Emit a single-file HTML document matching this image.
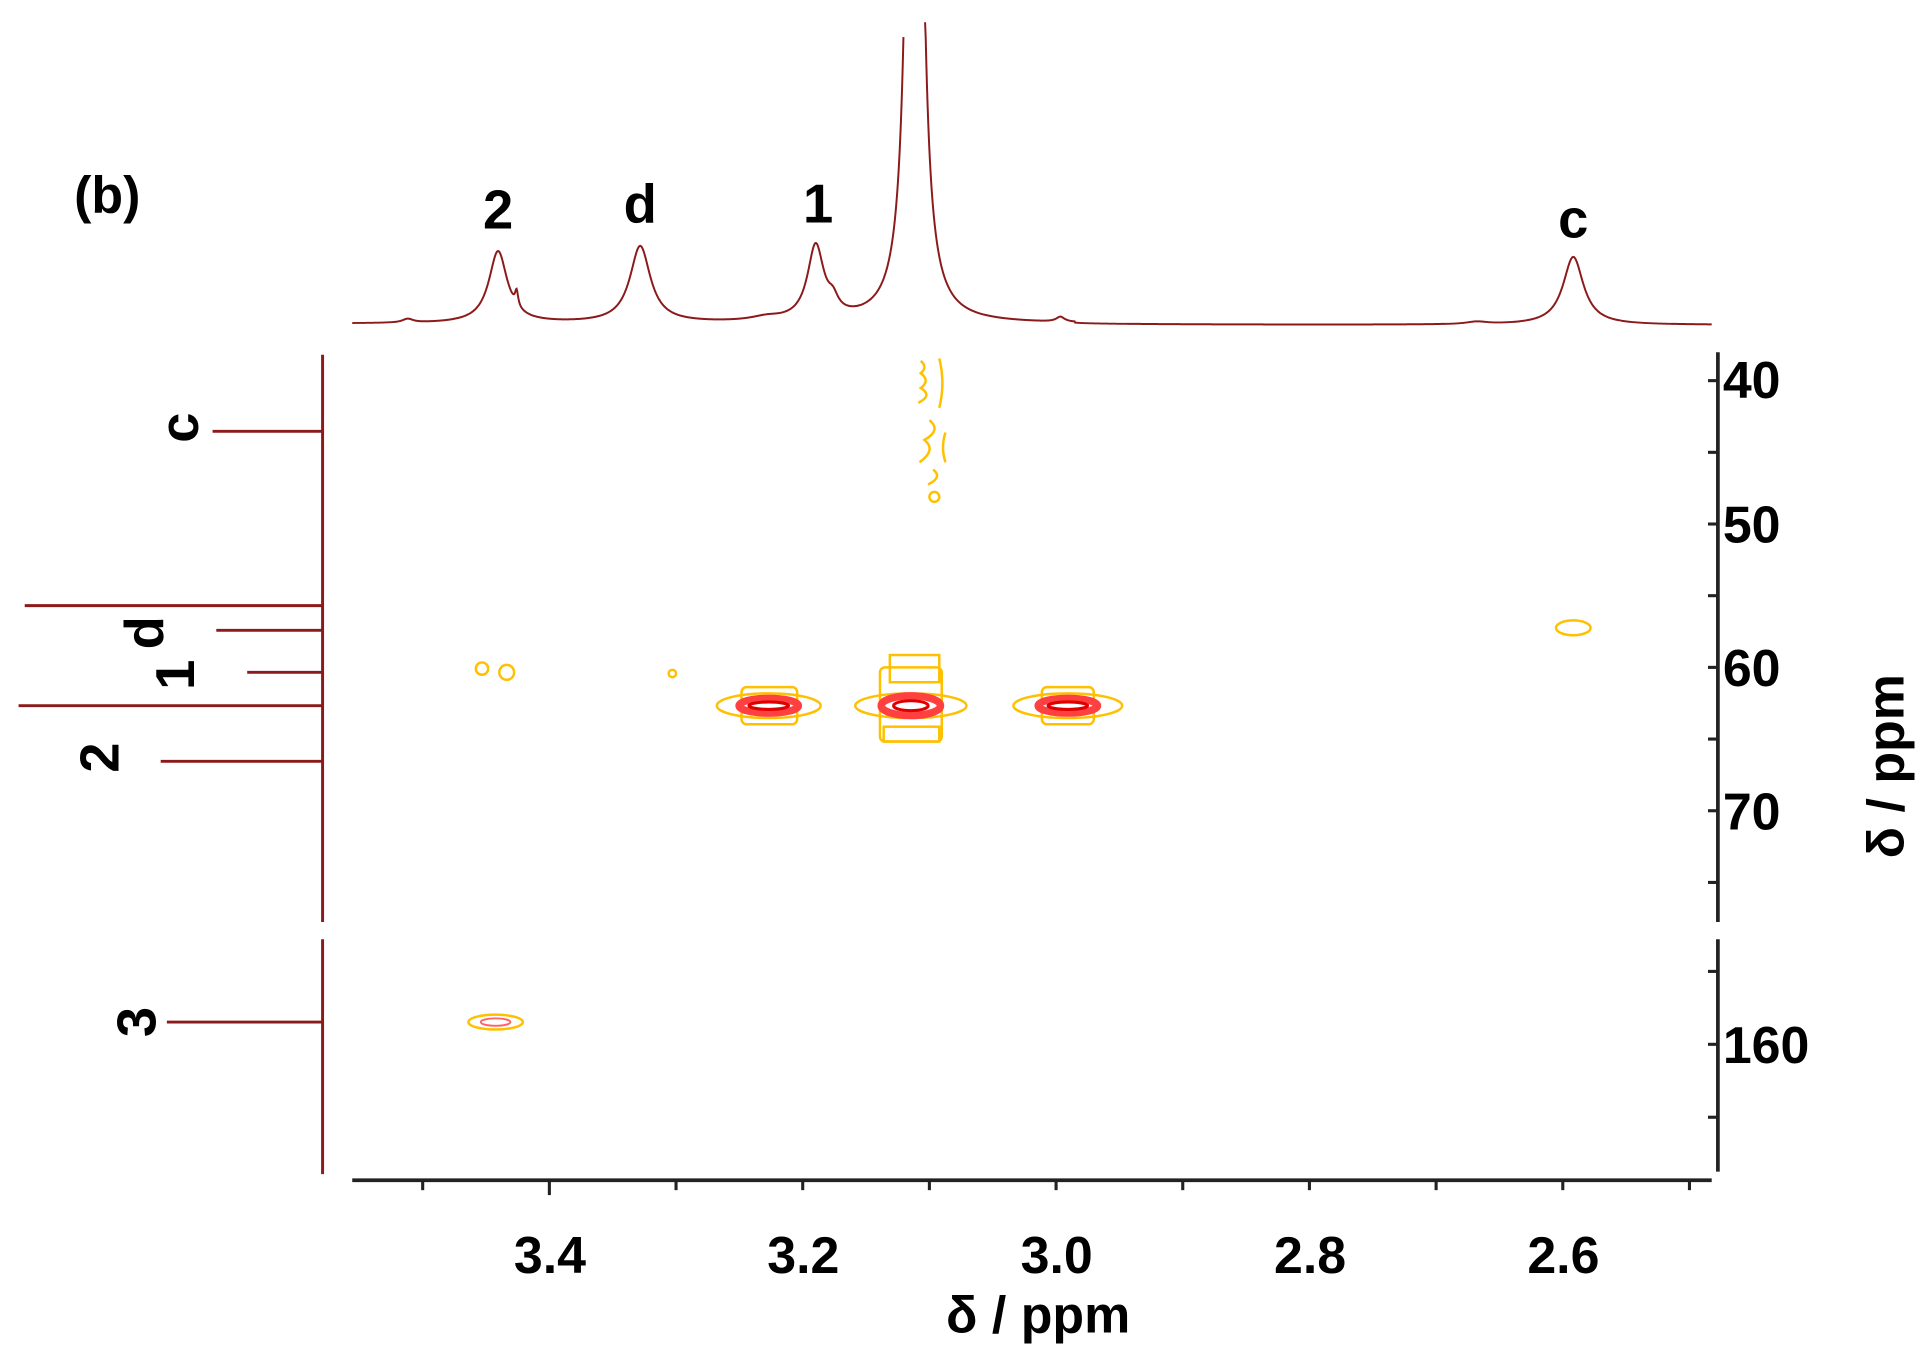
<!DOCTYPE html>
<html><head><meta charset="utf-8"><style>
html,body{margin:0;padding:0;background:#fff;}
svg{display:block;}
text{font-family:"Liberation Sans",sans-serif;font-weight:bold;fill:#000;}
</style></head><body>
<svg id="s" width="1928" height="1357" viewBox="0 0 1560 1098" xmlns="http://www.w3.org/2000/svg">
<rect width="1560" height="1098" fill="#fff"/>
<path id="top" fill="none" stroke="#8b1a1a" stroke-width="1.6"/>
<text x="60" y="172" font-size="42">(b)</text>
<text x="403" y="185" font-size="44" text-anchor="middle">2</text>
<text x="518" y="180" font-size="44" text-anchor="middle">d</text>
<text x="662" y="180" font-size="44" text-anchor="middle">1</text>
<text x="1273" y="192" font-size="44" text-anchor="middle">c</text>
<g stroke="#8b1a1a" stroke-width="2.4" fill="none">
<line x1="261" y1="287" x2="261" y2="746"/>
<line x1="261" y1="760" x2="261" y2="950"/>
<line x1="172" y1="349" x2="261" y2="349"/>
<line x1="20" y1="490" x2="261" y2="490"/>
<line x1="175" y1="510" x2="261" y2="510"/>
<line x1="200" y1="544" x2="261" y2="544"/>
<line x1="15" y1="571" x2="261" y2="571"/>
<line x1="130" y1="616" x2="261" y2="616"/>
<line x1="135" y1="827" x2="261" y2="827"/>
</g>
<g font-size="44">
<text transform="translate(160,346) rotate(-90)" text-anchor="middle">c</text>
<text transform="translate(132,512) rotate(-90)" text-anchor="middle">d</text>
<text transform="translate(157,546) rotate(-90)" text-anchor="middle">1</text>
<text transform="translate(96,613) rotate(-90)" text-anchor="middle">2</text>
<text transform="translate(126,827) rotate(-90)" text-anchor="middle">3</text>
</g>
<g stroke="#222" stroke-width="3" fill="none">
<line x1="285" y1="955" x2="1385" y2="955"/>
<line x1="1390" y1="285" x2="1390" y2="746"/>
<line x1="1390" y1="760" x2="1390" y2="948"/>
</g>
<g stroke="#222" stroke-width="2.5" id="ticks"></g>
<g font-size="42" text-anchor="middle">
<text x="445" y="1030">3.4</text><text x="650" y="1030">3.2</text><text x="855" y="1030">3.0</text><text x="1060" y="1030">2.8</text><text x="1265" y="1030">2.6</text>
<text x="840" y="1078">δ / ppm</text>
</g>
<g font-size="42">
<text x="1394" y="322">40</text><text x="1394" y="439">50</text><text x="1394" y="555">60</text><text x="1394" y="671">70</text><text x="1394" y="860">160</text>
<text transform="translate(1540,620) rotate(-90)" text-anchor="middle">δ / ppm</text>
</g>
<g fill="none" stroke-width="2">
<g stroke="#ffc000">
<ellipse cx="622" cy="571" rx="42" ry="10"/><rect x="600" y="556" width="45" height="30" rx="4"/>
<ellipse cx="737" cy="571" rx="45" ry="10"/><rect x="712" y="540" width="50" height="60" rx="4"/><rect x="720" y="530" width="40" height="22"/><rect x="715" y="588" width="45" height="12"/>
<ellipse cx="864" cy="571" rx="44" ry="10"/><rect x="843" y="556" width="42" height="30" rx="4"/>
<circle cx="390" cy="541" r="5"/><circle cx="410" cy="544" r="6"/><circle cx="544" cy="545" r="3"/>
<ellipse cx="1273" cy="508" rx="14" ry="6"/>
<ellipse cx="401" cy="827" rx="22" ry="6"/>
<circle cx="756" cy="402" r="4"/>
<path d="M745 292 q6 5 0 10 q8 6 0 12 q10 6 -2 12 M760 290 q5 20 0 40 M752 340 q10 8 -4 16 q10 8 -4 18 M755 380 q8 6 -4 12 M765 350 q-4 12 0 24"/>
</g>
<g stroke="#ff4040" stroke-width="6">
<ellipse cx="622" cy="571" rx="24" ry="6"/><ellipse cx="737" cy="571" rx="24" ry="8"/><ellipse cx="864" cy="571" rx="24" ry="6"/>
</g>
<g stroke="#e00000" stroke-width="2.5">
<ellipse cx="622" cy="571" rx="16" ry="3"/><ellipse cx="737" cy="571" rx="14" ry="4"/><ellipse cx="864" cy="571" rx="16" ry="3"/>
</g>
<ellipse cx="401" cy="827" rx="12" ry="3" stroke="#ff6060" stroke-width="1.5"/>
</g>
</svg>
<script>
(function(){
var t=document.getElementById('ticks'),h='';
for(var x=342;x<1385;x+=102.5){h+='<line x1="'+x+'" y1="955" x2="'+x+'" y2="'+((Math.abs((x-445)%205)<1)?967:963)+'"/>';}
for(var y=308;y<=746;y+=58){h+='<line x1="1382" y1="'+y+'" x2="1390" y2="'+y+'"/>';}
[786,845,904].forEach(function(y){h+='<line x1="1382" y1="'+y+'" x2="1390" y2="'+y+'"/>';});
t.innerHTML=h;
var pk=[[330,3,5],[403,58,9],[418,12,1.5],[518,62,10],[660,60,8],[674,10,5],[740,1400,4],[858,4,4],[1273,55,10],[620,3,15],[1195,2,10]];
var d='';
for(var x=285;x<=1385;x+=0.5){var y=263+(x<870?-1:0);
pk.forEach(function(p){var u=(x-p[0])/p[2];y-=p[1]/(1+u*u);});
if(y<18){d+=(x==285?'M':'M')+x+' 18 ';continue;}
d+=(x==285?'M':'L')+x+' '+y.toFixed(1)+' ';}
document.getElementById('top').setAttribute('d',d);
})();
</script>
</body></html>
